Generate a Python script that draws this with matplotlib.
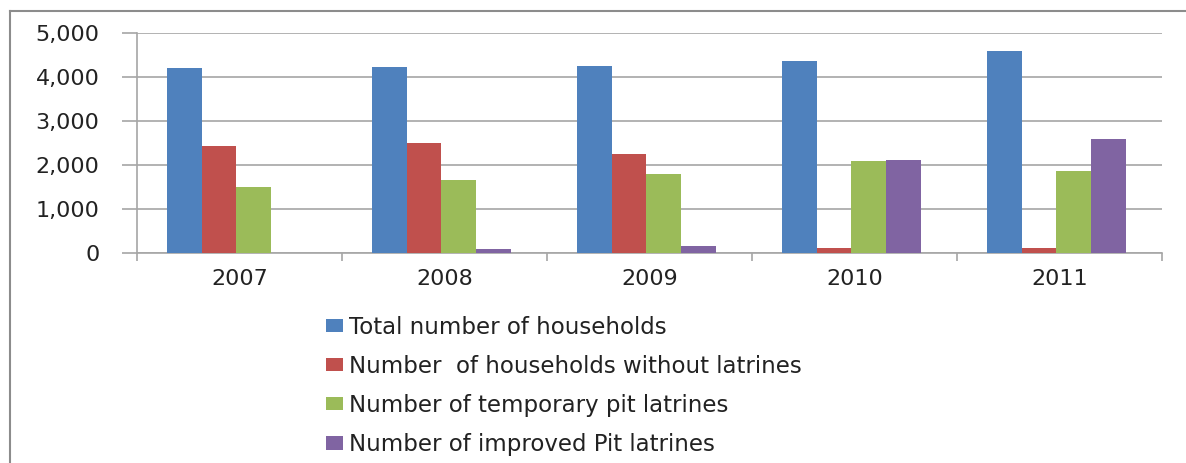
import numpy as np
import matplotlib.pyplot as plt
from matplotlib.lines import Line2D
from matplotlib.ticker import FuncFormatter, MultipleLocator

years = ["2007", "2008", "2009", "2010", "2011"]
labels = [
    "Total number of households",
    "Number  of households without latrines",
    "Number of temporary pit latrines",
    "Number of improved Pit latrines",
]
total_households = [4205, 4240, 4250, 4370, 4600]
without_latrines = [2440, 2500, 2250, 125, 115]
temporary_pit = [1500, 1660, 1810, 2105, 1870]
improved_pit = [0, 90, 175, 2130, 2600]
colors = ["#4F81BD", "#C0504D", "#9BBB59", "#8064A2"]

series = [total_households, without_latrines, temporary_pit, improved_pit]

fig = plt.figure(figsize=(11.86, 4.63), dpi=100)
ax = fig.add_axes([0.1155, 0.4529, 0.9798 - 0.1155, 0.928 - 0.4529])

x = np.arange(len(years))
w = 0.17
for i, (vals, lab, c) in enumerate(zip(series, labels, colors)):
    ax.bar(x + (i - 1.5) * w - 0.015, vals, w, color=c, label=lab, zorder=3)

ax.set_xlim(-0.5, len(years) - 0.5)
ax.set_ylim(0, 5000)
ax.yaxis.set_major_locator(MultipleLocator(1000))
ax.yaxis.set_major_formatter(FuncFormatter(lambda v, p: "{:,.0f}".format(v)))
ax.grid(axis="y", color="#A6A6A6", linewidth=1.2, zorder=0)

ax.set_xticks(x)
ax.set_xticklabels(years)
ax.set_xticks(np.arange(-0.5, len(years)), minor=True)
ax.tick_params(axis="x", which="major", length=0, pad=11, labelsize=16, labelcolor="#222222")
ax.tick_params(axis="x", which="minor", length=6, color="#A6A6A6", width=1.2)
ax.tick_params(axis="y", length=11, color="#A6A6A6", width=1.2, pad=16, labelsize=16, labelcolor="#222222")

for s in ["top", "right"]:
    ax.spines[s].set_visible(False)
for s in ["left", "bottom"]:
    ax.spines[s].set_color("#A6A6A6")
    ax.spines[s].set_linewidth(1.2)

# outer chart frame
fig.add_artist(Line2D([10 / 1186, 10 / 1186], [0, 1 - 11 / 463], color="#8C8C8C", lw=1.5))
fig.add_artist(Line2D([10 / 1186, 1], [1 - 11 / 463, 1 - 11 / 463], color="#8C8C8C", lw=1.5))

fig.legend(loc="upper left", bbox_to_anchor=(326 / 1186, 1 - 316 / 463),
           frameon=False, ncol=1, fontsize=16.5, handlelength=0.75, handleheight=0.5,
           handletextpad=0.26, labelspacing=0.7, borderpad=0, borderaxespad=0,
           labelcolor="#222222")

fig.savefig("out.png", dpi=100)
